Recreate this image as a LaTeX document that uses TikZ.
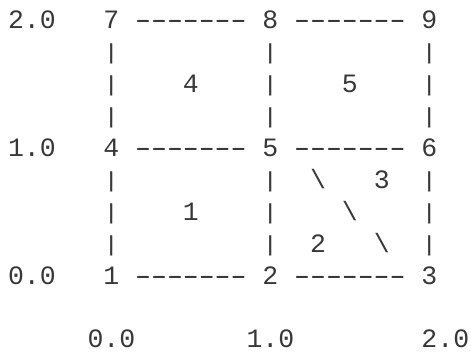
\documentclass[tikz,border=0pt]{standalone}
\usepackage{fontspec}
\usepackage{graphicx}
\setmonofont{Liberation Mono}
\newcommand{\dashbit}{\makebox[0.6em]{\scalebox{1.6}[1]{-}}}
\newcommand{\dashrun}{\dashbit\dashbit\dashbit\dashbit\dashbit\dashbit\dashbit}
\newcommand{\barbit}{\raisebox{1.2pt}{\scalebox{1}[0.82]{|}}}

\begin{document}
\begin{tikzpicture}[x=15.9pt, y=-31.9pt,
  every node/.style={font=\ttfamily\fontsize{26.5pt}{31.9pt}\selectfont,
    text=black!78, inner sep=0pt, anchor=base}]
  \useasboundingbox (-16pt,29pt) rectangle (455pt,-323pt);

  % mesh vertices
  \node (v7) at (6,0) {7};
  \node (v8) at (16,0) {8};
  \node (v9) at (26,0) {9};
  \node (v4) at (6,4) {4};
  \node (v5) at (16,4) {5};
  \node (v6) at (26,4) {6};
  \node (v1) at (6,8) {1};
  \node (v2) at (16,8) {2};
  \node (v3) at (26,8) {3};

  % edges
  \foreach \a/\b in {v7/v8, v8/v9, v4/v5, v5/v6, v1/v2, v2/v3}
    \path (\a.base) -- node {\dashrun} (\b.base);
  \foreach \a/\b in {v7/v4, v8/v5, v9/v6, v4/v1, v5/v2, v6/v3}
    \path (\a.base) -- node[pos=.25] {\barbit} node[pos=.5] {\barbit}
      node[pos=.75] {\barbit} (\b.base);
  \path (v5.base) -- node[pos=.25, xshift=7.95pt] {\textbackslash}
    node {\textbackslash} node[pos=.75, xshift=-7.95pt] {\textbackslash} (v3.base);

  % element numbers
  \node (e4) at (11,2) {4};
  \node (e5) at (21,2) {5};
  \node (e1) at (11,6) {1};
  \node (e3) at (23,5) {3};
  \node (e2) at (19,7) {2};

  % axis values
  \node (y2) at (1,0) {2.0};
  \node (y1) at (1,4) {1.0};
  \node (y0) at (1,8) {0.0};
  \node (x0) at (6,10) {0.0};
  \node (x1) at (16,10) {1.0};
  \node (x2) at (27,10) {2.0};
\end{tikzpicture}
\end{document}
